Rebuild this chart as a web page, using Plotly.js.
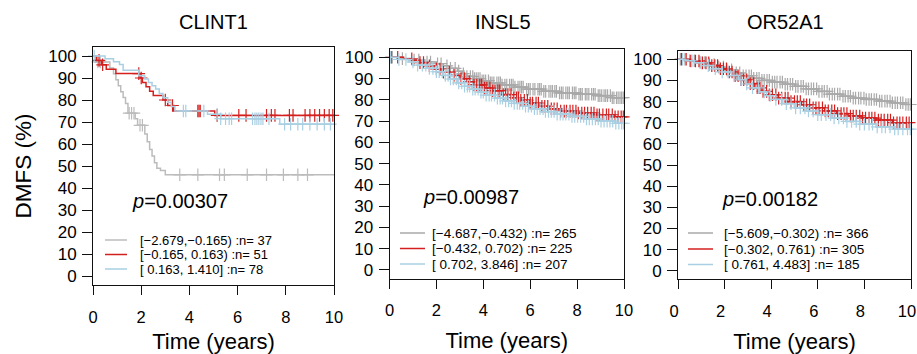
<!DOCTYPE html>
<html><head><meta charset="utf-8">
<script src="https://cdn.plot.ly/plotly-3.0.1.min.js"></script>
<style>html,body{margin:0;padding:0;background:#fff}#chart{width:917px;height:354px}</style>
</head><body><div id="chart"></div>
<script>
// ---------- labels ----------
const panelTitles = ["CLINT1", "INSL5", "OR52A1"];
const pValues = ["0.00307", "0.00987", "0.00182"];
const clint1Labels = ["[\u22122.679,\u22120.165) :n= 37", "[\u22120.165, 0.163) :n= 51", "[ 0.163, 1.410] :n= 78"];
const insl5Labels = ["[\u22124.687,\u22120.432) :n= 265", "[\u22120.432, 0.702) :n= 225", "[ 0.702, 3.846] :n= 207"];
const or52a1Labels = ["[\u22125.609,\u22120.302) :n= 366", "[\u22120.302, 0.761) :n= 305", "[ 0.761, 4.483] :n= 185"];
const xTicks = [0, 2, 4, 6, 8, 10];
const yTicks = [0, 10, 20, 30, 40, 50, 60, 70, 80, 90, 100];

// ---------- CLINT1 ----------
const clint1GrayT = [0, 0.1, 0.7, 0.85, 0.95, 1.05, 1.15, 1.25, 1.35, 1.45, 1.75, 1.85, 2.15, 2.25, 2.35, 2.45, 2.55, 2.65, 2.8, 3.0];
const clint1GrayS = [100, 97.3, 94.6, 91.9, 89.2, 86.5, 83.8, 81.1, 78.4, 74, 71.5, 68.5, 64.5, 61, 57.5, 54.5, 51.5, 49, 48, 46];
const clint1GrayC = [0.2, 0.3, 1.5, 1.6, 1.7, 1.95, 2.05, 3.6, 4.35, 5.25, 5.45, 6.4, 7.2, 7.9, 8.5, 8.9];
const clint1RedT = [0, 0.15, 0.35, 0.55, 0.95, 1.95, 2.05, 2.2, 2.35, 2.5, 2.9, 3.1, 3.35, 5.05];
const clint1RedS = [100, 98, 96, 94, 92, 90, 88, 86, 84, 82, 80, 77.5, 75, 73];
const clint1RedC = [0.25, 0.4, 1.9, 2.0, 3.0, 3.3, 4.35, 4.4, 4.45, 5.15, 6.05, 6.35, 7.2, 7.4, 7.55, 8.15, 8.3, 8.8, 9.0, 9.2, 9.4, 9.6, 9.8, 9.95];
const clint1BlueT = [0, 0.5, 0.85, 1.1, 1.25, 1.9, 2.15, 2.3, 2.45, 2.6, 2.75, 2.9, 3.1, 3.25, 3.4, 4.75, 5.3, 7.75];
const clint1BlueS = [100, 98.7, 97.4, 96.1, 93.5, 91, 89.5, 88, 86.5, 85, 83, 81, 79, 77, 75, 73.5, 71.5, 69];
const clint1BlueC = [0.05, 3.75, 3.85, 4.6, 5.15, 5.3, 5.5, 5.65, 5.75, 6.62, 6.72, 6.8, 6.88, 6.97, 7.05, 7.3, 7.95, 8.2, 8.5, 8.7, 9.0, 9.3, 9.6, 9.85];

// ---------- INSL5 ----------
const insl5GrayT = [0, 0.5, 1.0, 1.5, 2.0, 2.3, 2.6, 2.9, 3.1, 3.3, 3.6, 3.9, 4.3, 4.8, 5.3, 5.8, 6.5, 7.2, 8.0, 8.8, 9.5];
const insl5GrayS = [100, 99.4, 98.7, 97.8, 97, 96, 94.8, 93.5, 92.3, 91, 90, 89, 88, 87, 86, 85, 84, 83.3, 82.6, 82, 81];
const insl5GrayC = [0.12, 0.55, 1.05, 1.25, 1.6, 1.75, 2.05, 2.2, 2.45, 2.6, 2.8, 2.95, 3.15, 3.3, 3.45, 3.55, 3.62, 3.7, 3.78, 3.86, 3.95, 4.02, 4.1, 4.22, 4.3, 4.37, 4.45, 4.58, 4.66, 4.73, 4.8, 4.92, 5.0, 5.12, 5.2, 5.27, 5.35, 5.48, 5.56, 5.63, 5.7, 5.85, 5.93, 6.0, 6.12, 6.2, 6.33, 6.4, 6.47, 6.58, 6.66, 6.8, 6.88, 6.95, 7.05, 7.12, 7.25, 7.33, 7.4, 7.52, 7.6, 7.67, 7.8, 7.88, 7.95, 8.08, 8.15, 8.22, 8.35, 8.42, 8.5, 8.62, 8.7, 8.77, 8.9, 8.97, 9.05, 9.15, 9.22, 9.3, 9.42, 9.5, 9.57, 9.68, 9.75, 9.83, 9.9, 9.97];
const insl5RedT = [0, 0.6, 1.0, 1.3, 1.6, 1.9, 2.2, 2.6, 3.0, 3.3, 3.6, 4.0, 4.4, 4.8, 5.2, 5.6, 6.0, 6.4, 6.8, 7.3, 8.0, 8.8, 9.6];
const insl5RedS = [100, 99.3, 98.6, 97.5, 96, 94.5, 93, 91.5, 90, 88.5, 87, 85.5, 84.3, 82.5, 81, 79.8, 78.5, 77, 75.8, 74.7, 73.8, 73, 72];
const insl5RedC = [0.08, 0.35, 0.95, 1.3, 1.45, 1.7, 2.0, 2.15, 2.3, 2.55, 2.75, 3.05, 3.2, 3.4, 3.6, 3.72, 3.85, 3.93, 4.05, 4.15, 4.28, 4.4, 4.5, 4.62, 4.7, 4.85, 4.95, 5.05, 5.18, 5.3, 5.42, 5.5, 5.6, 5.75, 5.88, 6.0, 6.1, 6.25, 6.35, 6.5, 6.62, 6.75, 6.9, 7.02, 7.15, 7.3, 7.45, 7.55, 7.7, 7.82, 7.95, 8.05, 8.2, 8.32, 8.45, 8.6, 8.72, 8.85, 8.95, 9.1, 9.25, 9.35, 9.5, 9.62, 9.75, 9.88, 9.97];
const insl5BlueT = [0, 0.4, 0.8, 1.2, 1.6, 2.0, 2.3, 2.6, 2.9, 3.2, 3.5, 3.8, 4.1, 4.5, 4.9, 5.3, 5.7, 6.1, 6.6, 7.1, 7.7, 8.3, 9.0, 9.6];
const insl5BlueS = [100, 99, 97.8, 96.3, 94.8, 93.2, 91.5, 89.8, 88, 86.4, 85, 83.6, 82.2, 80.8, 79.5, 78.3, 77, 75.8, 74.5, 73.3, 72.2, 71, 70, 69];
const insl5BlueC = [0.05, 0.4, 0.7, 1.0, 1.2, 1.4, 1.55, 1.7, 1.85, 2.0, 2.12, 2.25, 2.38, 2.5, 2.6, 2.72, 2.85, 2.95, 3.08, 3.2, 3.32, 3.42, 3.55, 3.65, 3.78, 3.9, 4.0, 4.12, 4.25, 4.35, 4.48, 4.6, 4.72, 4.82, 4.95, 5.08, 5.2, 5.32, 5.45, 5.55, 5.68, 5.8, 5.92, 6.05, 6.18, 6.3, 6.42, 6.55, 6.65, 6.78, 6.9, 7.02, 7.15, 7.28, 7.4, 7.52, 7.65, 7.78, 7.9, 8.02, 8.15, 8.28, 8.4, 8.52, 8.65, 8.78, 8.9, 9.02, 9.15, 9.28, 9.4, 9.52, 9.65, 9.78, 9.9, 9.98];

// ---------- OR52A1 ----------
const or52a1GrayT = [0, 0.4, 0.8, 1.2, 1.6, 2.0, 2.4, 2.8, 3.2, 3.6, 4.0, 4.5, 5.0, 5.5, 6.0, 6.5, 7.0, 7.5, 8.0, 8.6, 9.2, 9.7];
const or52a1GrayS = [100, 99.3, 98.5, 97.5, 96.3, 95, 93.6, 92.2, 91, 90, 89.2, 88.2, 87.2, 86, 84.8, 83.5, 82.5, 81.6, 81, 80.2, 79.4, 78.6];
const or52a1GrayC = [0.1, 0.3, 0.5, 0.7, 0.95, 1.15, 1.35, 1.55, 1.75, 1.95, 2.1, 2.3, 2.5, 2.65, 2.8, 2.92, 3.05, 3.15, 3.25, 3.38, 3.48, 3.6, 3.7, 3.82, 3.92, 4.05, 4.15, 4.25, 4.38, 4.48, 4.6, 4.7, 4.82, 4.92, 5.05, 5.15, 5.28, 5.38, 5.5, 5.6, 5.72, 5.82, 5.95, 6.05, 6.18, 6.28, 6.4, 6.5, 6.62, 6.72, 6.85, 6.95, 7.08, 7.18, 7.3, 7.4, 7.52, 7.62, 7.75, 7.85, 7.98, 8.08, 8.2, 8.3, 8.42, 8.52, 8.65, 8.75, 8.88, 8.98, 9.1, 9.2, 9.32, 9.42, 9.55, 9.65, 9.78, 9.88, 9.97];
const or52a1RedT = [0, 0.5, 1.0, 1.4, 1.8, 2.1, 2.4, 2.7, 3.0, 3.3, 3.6, 3.9, 4.3, 4.8, 5.3, 5.8, 6.3, 6.8, 7.3, 7.9, 8.5, 9.2];
const or52a1RedS = [100, 99.2, 98.3, 97, 95.5, 94, 92.2, 90.3, 88.5, 86.5, 84.8, 83.2, 81.6, 80, 78.5, 77, 75.6, 74.3, 73.2, 72.2, 71.2, 70];
const or52a1RedC = [0.15, 0.35, 0.55, 0.75, 0.9, 1.05, 1.2, 1.32, 1.45, 1.58, 1.7, 1.82, 1.95, 2.08, 2.2, 2.32, 2.45, 2.58, 2.7, 2.82, 2.95, 3.1, 3.25, 3.4, 3.52, 3.65, 3.8, 3.92, 4.05, 4.2, 4.32, 4.45, 4.6, 4.72, 4.85, 5.0, 5.12, 5.25, 5.4, 5.52, 5.65, 5.8, 5.92, 6.05, 6.2, 6.32, 6.45, 6.6, 6.72, 6.85, 7.0, 7.12, 7.25, 7.4, 7.52, 7.65, 7.8, 7.92, 8.05, 8.2, 8.32, 8.45, 8.6, 8.72, 8.85, 9.0, 9.12, 9.25, 9.4, 9.52, 9.65, 9.8, 9.92];
const or52a1BlueT = [0, 0.3, 0.7, 1.1, 1.5, 1.9, 2.3, 2.6, 2.9, 3.2, 3.5, 3.8, 4.1, 4.5, 5.0, 5.5, 6.0, 6.6, 7.2, 7.8, 8.5, 9.3];
const or52a1BlueS = [100, 99.3, 98.3, 97, 95.5, 94, 92.3, 90.3, 88.3, 86.5, 84.6, 82.8, 81, 79, 77, 75.5, 73.8, 72.2, 70.6, 69.3, 68, 67];
const or52a1BlueC = [0.2, 0.6, 1.0, 1.3, 1.6, 1.9, 2.15, 2.4, 2.7, 2.95, 3.2, 3.45, 3.7, 3.95, 4.2, 4.45, 4.65, 4.85, 5.05, 5.25, 5.45, 5.6, 5.8, 6.0, 6.15, 6.35, 6.55, 6.7, 6.9, 7.1, 7.25, 7.45, 7.65, 7.8, 8.0, 8.2, 8.35, 8.55, 8.75, 8.9, 9.1, 9.3, 9.45, 9.65, 9.85, 9.97];

// ---------- styling / layout (not data) ----------
const W = 917, H = 354;
const FONT = "Liberation Sans, Arial, Helvetica, sans-serif";
const colorsByPanel = [
  ["#bcbcbc", "#d41f1f", "#a9cfe2"],
  ["#a9a9a9", "#d41f1f", "#a9cfe2"],
  ["#a9a9a9", "#d41f1f", "#a9cfe2"]
];
const boxes = [ // pixel boxes: left, right, top, bottom
  {l: 93, r: 334, t: 47.2, b: 284.8},
  {l: 389.5, r: 624, t: 48.8, b: 278.5},
  {l: 678, r: 911, t: 50.8, b: 279.2}
];
const tickShift = [0, 0, -4];
const px = v => v / W, py = v => 1 - v / H;

const panels = [
  {groups: [[clint1GrayT, clint1GrayS, clint1GrayC], [clint1RedT, clint1RedS, clint1RedC], [clint1BlueT, clint1BlueS, clint1BlueC]], labels: clint1Labels,
   title: {x: 213, y: 22}, p: {x: 130, y: 201}, leg: {x0: 105, x1: 127, tx: 138, ys: [240, 254.5, 269], fs: 13}},
  {groups: [[insl5GrayT, insl5GrayS, insl5GrayC], [insl5RedT, insl5RedS, insl5RedC], [insl5BlueT, insl5BlueS, insl5BlueC]], labels: insl5Labels,
   title: {x: 503, y: 22}, p: {x: 421, y: 197}, leg: {x0: 400, x1: 425, tx: 430, ys: [233, 248.5, 264], fs: 13.5}},
  {groups: [[or52a1GrayT, or52a1GrayS, or52a1GrayC], [or52a1RedT, or52a1RedS, or52a1RedC], [or52a1BlueT, or52a1BlueS, or52a1BlueC]], labels: or52a1Labels,
   title: {x: 785, y: 22}, p: {x: 720, y: 199}, leg: {x0: 688, x1: 713, tx: 722, ys: [233, 249, 264.5], fs: 13.5}}
];

function survAt(T, S, t) {
  let v = S[0];
  for (let i = 0; i < T.length; i++) { if (T[i] <= t) v = S[i]; }
  return v;
}

const traces = [];
const layout = {
  width: W, height: H,
  margin: {l: 0, r: 0, t: 0, b: 0},
  paper_bgcolor: "#fff", plot_bgcolor: "#fff",
  showlegend: false,
  font: {family: FONT, color: "#000"},
  annotations: [], shapes: []
};

panels.forEach((p, k) => {
  const sx = k === 0 ? "" : String(k + 1);
  const xa = "x" + sx, ya = "y" + sx;
  const b = boxes[k];
  p.groups.forEach((g, j) => {
    const [T, S, C] = g;
    const col = colorsByPanel[k][j];
    traces.push({
      type: "scatter", mode: "lines", xaxis: xa, yaxis: ya,
      x: T.concat([10]), y: S.concat([S[S.length - 1]]),
      line: {shape: "hv", color: col, width: 1.5},
      hoverinfo: "skip", name: p.labels[j]
    });
    traces.push({
      type: "scatter", mode: "markers", xaxis: xa, yaxis: ya,
      x: C, y: C.map(t => survAt(T, S, t)),
      marker: {symbol: "cross-thin-open", size: 9, line: {color: col, width: 1.2}, color: col},
      hoverinfo: "skip", cliponaxis: false, name: p.labels[j] + " censored"
    });
  });
  layout["xaxis" + sx] = {
    domain: [px(b.l), px(b.r)], anchor: ya, range: [0, 10], tickvals: xTicks,
    ticks: "outside", ticklen: 9, tickwidth: 1, tickcolor: "#111",
    showline: true, mirror: true, linecolor: "#111", linewidth: 1,
    showgrid: false, zeroline: false, fixedrange: true, ticklabeloverflow: "allow",
    tickfont: {size: 16.5, family: FONT, color: "#000"}, ticklabelstandoff: 8, ticklabelshift: tickShift[k],
    title: {text: "Time (years)", font: {size: 22, family: FONT, color: "#000"}, standoff: 14}
  };
  layout["yaxis" + sx] = {
    domain: [py(b.b), py(b.t)], anchor: xa, range: [-4, 104], tickvals: yTicks,
    ticks: "outside", ticklen: 10, tickwidth: 1, tickcolor: "#111",
    showline: true, mirror: true, linecolor: "#111", linewidth: 1,
    showgrid: false, zeroline: false, fixedrange: true, ticklabeloverflow: "allow",
    tickfont: {size: 17, family: FONT, color: "#000"}, ticklabelstandoff: 2
  };
  if (k === 0) {
    layout["yaxis" + sx].title = {text: "DMFS (%)", font: {size: 22.5, family: FONT, color: "#000"}, standoff: 10};
  }
  layout.annotations.push({
    xref: "paper", yref: "paper", x: px(p.title.x), y: py(p.title.y), xanchor: "center", yanchor: "middle",
    text: panelTitles[k], showarrow: false, font: {size: 20, family: FONT, color: "#000"}
  });
  layout.annotations.push({
    xref: "paper", yref: "paper", x: px(p.p.x), y: py(p.p.y), xanchor: "left", yanchor: "middle",
    text: "<i>p</i>=" + pValues[k], showarrow: false, font: {size: 20, family: FONT, color: "#000"}
  });
  p.labels.forEach((lab, j) => {
    layout.shapes.push({
      type: "line", xref: "paper", yref: "paper",
      x0: px(p.leg.x0), x1: px(p.leg.x1), y0: py(p.leg.ys[j]), y1: py(p.leg.ys[j]),
      line: {color: colorsByPanel[k][j], width: 1.5}
    });
    layout.annotations.push({
      xref: "paper", yref: "paper", x: px(p.leg.tx), y: py(p.leg.ys[j]), xanchor: "left", yanchor: "middle",
      text: lab, showarrow: false, font: {size: p.leg.fs, family: FONT, color: "#000"}
    });
  });
});

Plotly.newPlot("chart", traces, layout, {displayModeBar: false, staticPlot: true});
</script>
</body></html>
